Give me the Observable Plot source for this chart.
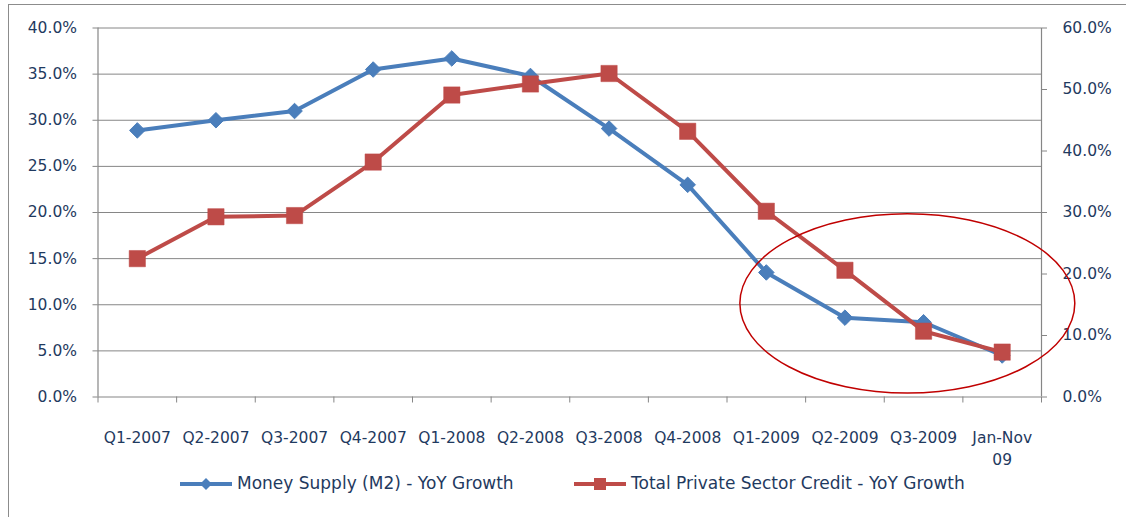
<!DOCTYPE html>
<html>
<head>
<meta charset="utf-8">
<script src="https://cdn.jsdelivr.net/npm/d3@7"></script>
<script src="https://cdn.jsdelivr.net/npm/@observablehq/plot@0.6"></script>
<style>
  html, body { margin: 0; padding: 0; background: #fff; }
  #wrap { position: relative; width: 1126px; height: 517px; overflow: hidden; font-family: "DejaVu Sans", sans-serif; }
  #frame { position: absolute; left: 8px; top: 4px; width: 1300px; height: 700px; border: 1.5px solid #8c8c8c; box-sizing: border-box; }
  #chart { position: absolute; left: 0; top: 0; }
  .leg { position: absolute; font-size: 17px; color: #1F3A60; line-height: 20px; white-space: nowrap; }
</style>
</head>
<body>
<div id="wrap">
  <div id="frame"></div>
  <div id="chart"></div>
  <div id="legend"></div>
</div>
<script>
const categories = ["Q1-2007","Q2-2007","Q3-2007","Q4-2007","Q1-2008","Q2-2008","Q3-2008","Q4-2008","Q1-2009","Q2-2009","Q3-2009","Jan-Nov\n09"];
const moneySupply = [28.9, 30.0, 31.0, 35.5, 36.7, 34.8, 29.1, 23.0, 13.5, 8.6, 8.1, 4.5];
const privateCredit = [22.5, 29.3, 29.5, 38.2, 49.1, 50.9, 52.6, 43.2, 30.2, 20.6, 10.7, 7.3];
const leftTicks = [0, 5, 10, 15, 20, 25, 30, 35, 40];
const rightTicks = [0, 10, 20, 30, 40, 50, 60];
const seriesNames = ["Money Supply (M2) - YoY Growth", "Total Private Sector Credit - YoY Growth"];

const blue = "#4A7EBB", red = "#BE4B48", grid = "#868686", textColor = "#1F3A60";
const ratio = 40 / 60; // right axis -> left axis units

const m2Rows = moneySupply.map((v, i) => ({x: i + 0.5, y: v}));
const crRows = privateCredit.map((v, i) => ({x: i + 0.5, y: v * ratio}));

const plot = Plot.plot({
  width: 1126,
  height: 470,
  marginLeft: 97.5,
  marginRight: 85,
  marginTop: 27.5,
  marginBottom: 73.5,
  style: {fontFamily: "DejaVu Sans, sans-serif", color: textColor, background: "transparent", overflow: "visible"},
  x: {domain: [0, 12], axis: null},
  y: {domain: [0, 40], axis: null},
  marks: [
    Plot.gridY(leftTicks.filter(d => d > 0), {stroke: grid, strokeOpacity: 1, strokeWidth: 1}),
    Plot.ruleY([0], {stroke: grid, strokeWidth: 1.2}),
    Plot.ruleX([0, 12], {stroke: grid, strokeWidth: 1.2}),
    Plot.axisY(leftTicks, {anchor: "left", label: null, tickSize: 5, tickPadding: 16, stroke: grid, fill: textColor, fontSize: 15.5,
      tickFormat: d => d.toFixed(1) + "%"}),
    Plot.axisY(rightTicks.map(d => d * ratio), {anchor: "right", label: null, tickSize: 5, tickPadding: 16, stroke: grid, fill: textColor, fontSize: 15.5,
      textAnchor: "start", tickFormat: d => (d / ratio).toFixed(1) + "%"}),
    Plot.axisX(d3.range(0, 13), {anchor: "bottom", label: null, tickSize: 6, stroke: grid, tickFormat: () => ""}),
    Plot.text(categories, {x: (d, i) => i + 0.5, y: 0, text: d => d, dy: 30, lineAnchor: "top", lineHeight: 1.45,
      fontSize: 15.5, fill: textColor}),
    Plot.line(m2Rows, {x: "x", y: "y", stroke: blue, strokeWidth: 4}),
    Plot.dot(m2Rows, {x: "x", y: "y", symbol: "diamond2", r: 7, fill: blue, stroke: blue, strokeWidth: 1}),
    Plot.line(crRows, {x: "x", y: "y", stroke: red, strokeWidth: 4}),
    Plot.dot(crRows, {x: "x", y: "y", symbol: "square", r: 9.2, fill: red, stroke: red, strokeWidth: 0.5})
  ]
});

// Annotation ellipse (in data units)
const ell = {cx: 10.3, cy: 10.1, rx: 2.13, ry: 9.72};
const xs = plot.scale("x"), ys = plot.scale("y");
const cx = xs.apply(ell.cx), cy = ys.apply(ell.cy);
const rx = xs.apply(ell.cx + ell.rx) - cx, ry = cy - ys.apply(ell.cy + ell.ry);
d3.select(plot).append("ellipse")
  .attr("cx", cx).attr("cy", cy).attr("rx", rx).attr("ry", ry)
  .attr("fill", "none").attr("stroke", "#C00000").attr("stroke-width", 1.5);

document.getElementById("chart").appendChild(plot);

// Legend
const legend = document.getElementById("legend");
const items = [
  {name: seriesNames[0], color: blue, lineX: 180, textX: 237, sym: "diamond"},
  {name: seriesNames[1], color: red, lineX: 574, textX: 631, sym: "square"}
];
items.forEach(it => {
  const s = d3.create("svg").attr("width", 54).attr("height", 20)
    .style("position", "absolute").style("left", it.lineX + "px").style("top", "474px");
  s.append("line").attr("x1", 0).attr("x2", 52).attr("y1", 10).attr("y2", 10)
    .attr("stroke", it.color).attr("stroke-width", 4);
  if (it.sym === "diamond") {
    s.append("path").attr("d", "M26,4L32,10L26,16L20,10Z").attr("fill", it.color);
  } else {
    s.append("rect").attr("x", 20).attr("y", 4).attr("width", 12).attr("height", 12).attr("fill", it.color);
  }
  legend.appendChild(s.node());
  const t = document.createElement("div");
  t.className = "leg";
  t.style.left = it.textX + "px";
  t.style.top = "473px";
  t.textContent = it.name;
  legend.appendChild(t);
});
</script>
</body>
</html>
